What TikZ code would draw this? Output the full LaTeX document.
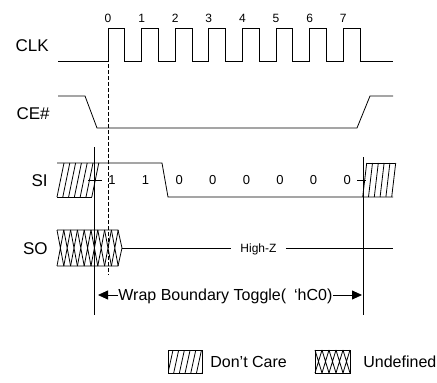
\documentclass[tikz,border=0pt]{standalone}
\usepackage{fontspec}
\setmainfont{Liberation Sans}
\usetikzlibrary{arrows.meta}

\begin{document}
\begin{tikzpicture}[x=1pt, y=-1pt, line width=0.8pt,
    lbl/.style={anchor=east, inner sep=0pt, text height=12.2pt, text depth=0pt, font=\fontsize{17}{20}\selectfont},
    bit/.style={inner sep=0pt, text height=9.3pt, text depth=0pt, font=\fontsize{13}{15}\selectfont},
    num/.style={inner sep=0pt, text height=8.6pt, text depth=0pt, font=\fontsize{12}{14}\selectfont},
    txt/.style={anchor=west, inner sep=0pt, text height=11.5pt, text depth=0pt, font=\fontsize{16}{19}\selectfont},
    tip/.style={-{Triangle[length=10pt, width=9pt]}}]
  \useasboundingbox (0, 0) rectangle (437, 383);
  % signal names
  \node [lbl] (clk) at (49, 45)  {CLK};
  \node [lbl] (ce)  at (50, 113) {CE\#};
  \node [lbl] (si)  at (48, 180) {SI};
  \node [lbl] (so)  at (48, 248) {SO};
  % clock
  \draw (58, 61.7) -- (108, 61.7)
    \foreach \k in {0,...,7} { -- ++(0, -33.4) -- ++(16.8, 0) -- ++(0, 33.4) -- ++(16.8, 0) }
    -- (393, 61.7);
  \foreach \k in {0,...,7}
    \node [num] (n\k) at (108 + 33.6*\k, 18) {\k};
  % chip enable
  \draw (58, 96) -- (85, 96) -- (97, 128) -- (357, 128) -- (370, 96) -- (393, 96);
  \draw [dashed, dash pattern=on 4pt off 2pt] (108, 28.3) -- (108, 275);
  % serial in
  \draw (57, 163) -- (162, 163) -- (168, 197) -- (393, 197);
  \draw (57, 197) -- (92, 197);
  \foreach \i in {0,...,6}
    \draw (57 + 5.8*\i, 197) -- (64 + 5.8*\i, 163);
  \draw (367, 163) -- (395, 163);
  \foreach \i in {0,...,5}
    \draw (362.7 + 5.8*\i, 197) -- (366.7 + 5.8*\i, 163);
  \draw (88, 180) -- (102, 180);
  \draw (357, 180) -- (366, 180);
  \foreach \v [count=\i from 0] in {1,1,0,0,0,0,0,0}
    \node [bit] (b\i) at (112 + 33.6*\i, 180) {\v};
  % serial out
  \draw (57, 230) -- (118, 230) -- (122, 248) -- (118, 266) -- (57, 266);
  \foreach \i in {0,...,8}
    \draw (57 + 6.8*\i, 230) -- (63.8 + 6.8*\i, 266) (57 + 6.8*\i, 266) -- (63.8 + 6.8*\i, 230);
  \coordinate (soend) at (122, 248);
  \node [num, inner xsep=9pt] (hz) at (258.5, 248) {High-Z};
  \draw (soend) -- (hz.west) (hz.east) -- (393, 248);
  % wrap boundary
  \draw (94.5, 147) -- (94.5, 315);
  \draw (363.3, 157) -- (363.3, 315);
  \node [txt] (wrap) at (118, 295) {Wrap Boundary Toggle(\hspace{8pt}‘hC0)};
  \coordinate (wl) at (98, 295);
  \coordinate (wr) at (362, 295);
  \draw [tip] (wrap.west) -- (wl);
  \draw [tip] (wrap.east) -- (wr);
  % legend
  \draw (168, 350) rectangle (202, 373);
  \begin{scope}
    \clip (168, 350) rectangle (202, 373);
    \foreach \i in {-1,...,6}
      \draw (168 + 5.7*\i, 373) -- (173 + 5.7*\i, 350);
  \end{scope}
  \node [txt] (dc) at (210, 361.5) {Don't Care};
  \draw (315, 350) rectangle (350, 373);
  \foreach \i in {0,...,4}
    \draw (315 + 7*\i, 350) -- (322 + 7*\i, 373) (315 + 7*\i, 373) -- (322 + 7*\i, 350);
  \node [txt] (ud) at (363, 361.5) {Undefined};
\end{tikzpicture}
\end{document}
